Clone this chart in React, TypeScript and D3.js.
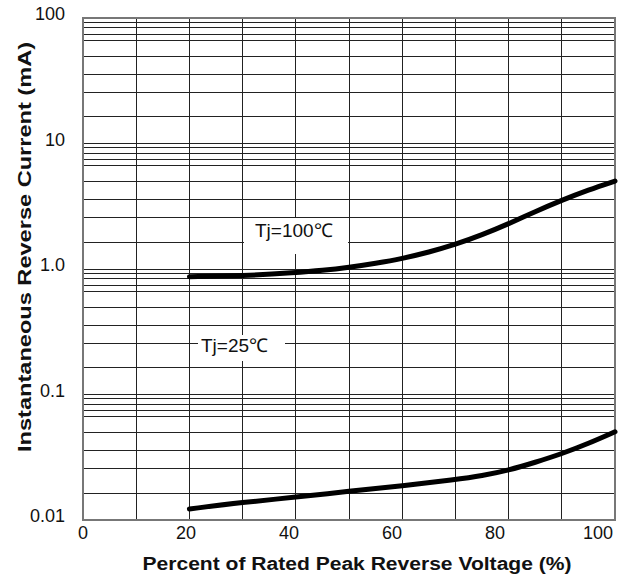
import React from "react";
import * as d3 from "d3";

// values
const voltagePct = [20, 30, 40, 45, 50, 55, 60, 65, 70, 75, 80, 85, 90, 95, 100];
const current100 = [0.868, 0.88, 0.935, 0.973, 1.03, 1.11, 1.21, 1.36, 1.567, 1.87, 2.29, 2.87, 3.53, 4.27, 5.02];
const voltagePct25 = [20, 30, 40, 50, 60, 70, 75, 80, 85, 90, 95, 100];
const current25 = [0.01224, 0.01384, 0.01517, 0.01695, 0.0187, 0.021, 0.0225, 0.0249, 0.0288, 0.0337, 0.0407, 0.0505];

const xTicks = [0, 20, 40, 60, 80, 100];
const xGrid = [0, 10, 20, 30, 40, 50, 60, 70, 80, 90, 100];
const yDecades = [0.01, 0.1, 1, 10, 100];
const yTickLabels = ["0.01", "0.1", "1.0", "10", "100"];
// the printed grid is not a true log grid, these are the factors as drawn
const minorFactors = [1.64, 2.56, 3.56, 4.97, 6.65, 7.43, 8.36, 9.27];

const W = 638;
const H = 581;
const font = "'Liberation Sans', Arial, sans-serif";

export default function App() {
  const x = d3.scaleLinear().domain([0, 100]).range([83, 615]);
  const xLabel = d3.scaleLinear().domain([0, 100]).range([83, 598]);
  const y = d3.scaleLog().domain([0.01, 100]).range([520, 18]);

  const line = d3
    .line<[number, number]>()
    .x((d) => x(d[0]))
    .y((d) => y(d[1]))
    .curve(d3.curveBasis);

  const pts100 = voltagePct.map((v, i) => [v, current100[i]] as [number, number]);
  const pts25 = voltagePct25.map((v, i) => [v, current25[i]] as [number, number]);

  const minorLines: number[] = [];
  yDecades.slice(0, -1).forEach((d) => minorFactors.forEach((f) => minorLines.push(d * f)));

  return (
    <svg width={W} height={H} style={{ position: "absolute", left: 0, top: 0, background: "#fff" }}>
      <rect width={W} height={H} fill="#fff" />
      <g stroke="#222" strokeWidth={1} shapeRendering="crispEdges">
        {minorLines.map((v, i) => (
          <line key={"m" + i} x1={x(0)} x2={x(100)} y1={y(v)} y2={y(v)} />
        ))}
        {yDecades.map((v, i) => (
          <line key={"d" + i} x1={x(0)} x2={x(100)} y1={y(v)} y2={y(v)} />
        ))}
        {xGrid.map((v, i) => (
          <line key={"v" + i} x1={x(v)} x2={x(v)} y1={y(100)} y2={y(0.01)} />
        ))}
      </g>
      <rect x={x(0)} y={y(100)} width={x(100) - x(0)} height={y(0.01) - y(100)} fill="none" stroke="#777" strokeWidth={2} />

      {/* label boxes hide the grid behind the text */}
      <rect x={244} y={218} width={104} height={36} fill="#fff" />
      <rect x={198} y={335} width={87} height={26} fill="#fff" />
      <text x={255} y={237} fontFamily={font} fontSize={19} fill="#111">Tj=100℃</text>
      <text x={201} y={352} fontFamily={font} fontSize={19} fill="#111">Tj=25℃</text>

      <path d={line(pts100) || ""} fill="none" stroke="#000" strokeWidth={5} strokeLinecap="round" />
      <path d={line(pts25) || ""} fill="none" stroke="#000" strokeWidth={5} strokeLinecap="round" />

      <g fontFamily={font} fontSize={18} fill="#111">
        {yDecades.map((v, i) => (
          <text key={"yl" + i} x={65} y={y(v) + 2} textAnchor="end">
            {yTickLabels[i]}
          </text>
        ))}
        {xTicks.map((v) => (
          <text key={"xl" + v} x={xLabel(v)} y={539} textAnchor="middle">
            {v}
          </text>
        ))}
      </g>

      <text x={357} y={570} textAnchor="middle" fontFamily={font} fontSize={18} fontWeight="bold" fill="#111" textLength={429} lengthAdjust="spacingAndGlyphs">
        Percent of Rated Peak Reverse Voltage (%)
      </text>
      <text transform="translate(31,247) rotate(-90)" textAnchor="middle" fontFamily={font} fontSize={18} fontWeight="bold" fill="#111" textLength={410} lengthAdjust="spacingAndGlyphs">
        Instantaneous Reverse Current (mA)
      </text>
    </svg>
  );
}
